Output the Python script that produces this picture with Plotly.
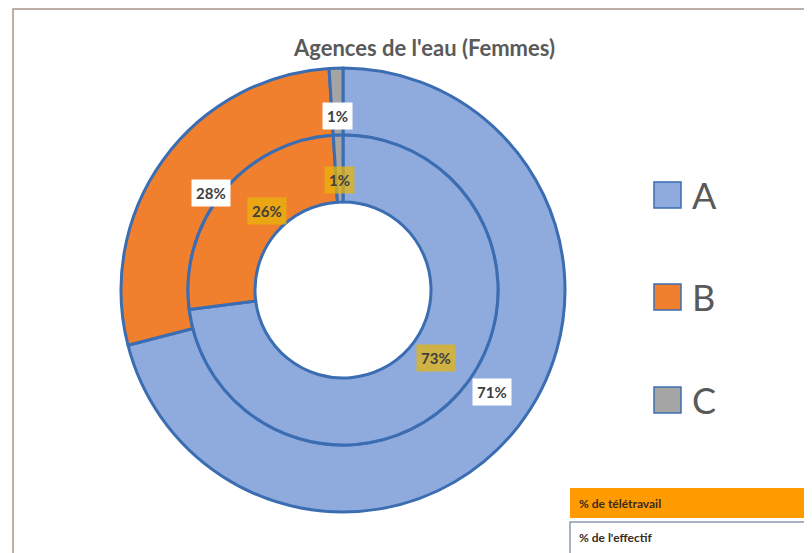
import math
import plotly.graph_objects as go

# ---------------- data ----------------
categories = ["A", "B", "C"]
effectif_pct = [71, 28, 1]      # outer ring: % de l'effectif
teletravail_pct = [73, 26, 1]   # inner ring: % de télétravail
title_text = "Agences de l'eau (Femmes)"
box_labels = ["% de télétravail", "% de l'effectif"]

# ---------------- style ----------------
colors = ["#8FAADC", "#F07F2E", "#A5A5A5"]
edge = "#3B6DB3"
OFF = 8                      # page body margin
W, H = 812 - OFF, 553 - OFF
FONT = "Lato"

cx, cy = 343, 290          # donut centre (screen px)
R_out, R_mid, R_hole = 222, 155, 88


def px(x):
    return (x - OFF) / W


def py(y):
    return 1 - (y - OFF) / H


def dom(r):
    return dict(x=[px(cx - r), px(cx + r)], y=[py(cy + r), py(cy - r)])


fig = go.Figure()
fig.add_trace(go.Pie(
    labels=categories, values=effectif_pct, sort=False, direction="clockwise",
    rotation=0, hole=R_mid / R_out, domain=dom(R_out), textinfo="none",
    marker=dict(colors=colors, line=dict(color=edge, width=3)),
    showlegend=False, hoverinfo="label+value"))
fig.add_trace(go.Pie(
    labels=categories, values=teletravail_pct, sort=False, direction="clockwise",
    rotation=0, hole=R_hole / R_mid, domain=dom(R_mid), textinfo="none",
    marker=dict(colors=colors, line=dict(color=edge, width=3)),
    showlegend=False, hoverinfo="label+value"))

annotations = []
shapes = []


def add_labels(values, r, bg):
    total = sum(values)
    cum = 0
    for v in values:
        th = 2 * math.pi * (cum + v / 2) / total
        cum += v
        x = cx + r * math.sin(th)
        y = cy - r * math.cos(th)
        annotations.append(dict(
            x=px(x), y=py(y), xref="paper", yref="paper", showarrow=False,
            text=f"<b>{v}%</b>", bgcolor=bg, borderpad=4,
            font=dict(family=FONT, size=15, color="#404040")))


add_labels(effectif_pct, (R_out + R_mid) / 2, "white")
add_labels(teletravail_pct, (R_mid + R_hole) / 2 + 3, "rgba(232,182,10,0.72)")

# title
annotations.append(dict(
    x=px(424), y=py(32), xref="paper", yref="paper", showarrow=False,
    text=f"<b>{title_text}</b>", font=dict(family=FONT, size=22, color="#5A5A5A")))

# manual legend
leg_y = [195, 297, 400]
for cat, col, yy in zip(categories, colors, leg_y):
    shapes.append(dict(type="rect", xref="paper", yref="paper",
                       x0=px(654), x1=px(681), y0=py(yy + 13), y1=py(yy - 13),
                       fillcolor=col, line=dict(color=edge, width=1.5)))
    annotations.append(dict(
        x=px(690), y=py(yy), xref="paper", yref="paper", showarrow=False,
        xanchor="left", yanchor="middle", text=cat,
        font=dict(family=FONT, size=36, color="#595959")))

# frame
shapes.append(dict(type="rect", xref="paper", yref="paper",
                   x0=px(13), x1=px(830), y0=py(570), y1=py(9),
                   line=dict(color="#A8958A", width=1.5), layer="below"))

# bottom-right boxes
shapes.append(dict(type="rect", xref="paper", yref="paper",
                   x0=px(570), x1=px(830), y0=py(518), y1=py(488),
                   fillcolor="#FF9A00", line=dict(width=0)))
shapes.append(dict(type="rect", xref="paper", yref="paper",
                   x0=px(570), x1=px(830), y0=py(570), y1=py(522),
                   fillcolor="white", line=dict(color="#8A9AB0", width=1.5)))
for txt, yy in zip(box_labels, [503, 537]):
    annotations.append(dict(
        x=px(577), y=py(yy), xref="paper", yref="paper", showarrow=False,
        xanchor="left", yanchor="middle", text=f"<b>{txt}</b>",
        font=dict(family=FONT, size=12, color="#3A2A20")))

fig.update_layout(
    width=W, height=H, margin=dict(l=0, r=0, t=0, b=0),
    paper_bgcolor="white", plot_bgcolor="white",
    annotations=annotations, shapes=shapes, showlegend=False,
)

fig.write_html("out.html")
